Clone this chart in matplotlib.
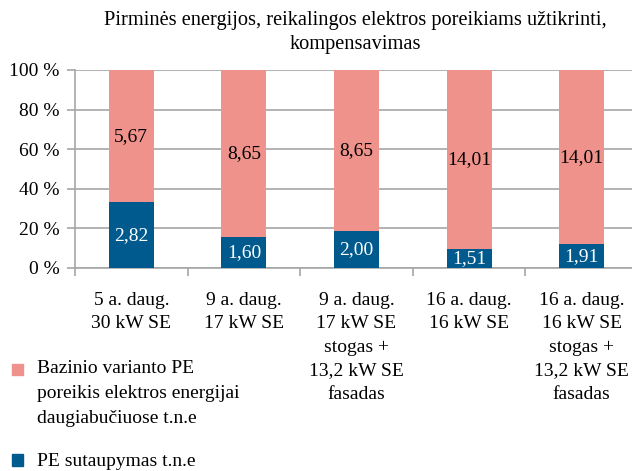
import matplotlib
matplotlib.use('Agg')
import matplotlib.pyplot as plt
import numpy as np
from matplotlib.patches import Rectangle

categories = [
    "5 a. daug.\n30 kW SE",
    "9 a. daug.\n17 kW SE",
    "9 a. daug.\n17 kW SE\nstogas +\n13,2 kW SE\nfasadas",
    "16 a. daug.\n16 kW SE",
    "16 a. daug.\n16 kW SE\nstogas +\n13,2 kW SE\nfasadas",
]
savings = [2.82, 1.60, 2.00, 1.51, 1.91]
base_need = [5.67, 8.65, 8.65, 14.01, 14.01]
y_ticks = [0, 20, 40, 60, 80, 100]
title = "Pirminės energijos, reikalingos elektros poreikiams užtikrinti,\nkompensavimas"
legend_labels = ["Bazinio varianto PE\nporeikis elektros energijai\ndaugiabučiuose t.n.e",
                 "PE sutaupymas t.n.e"]

pink = "#EF928B"
blue = "#005A8D"
grid_c = "#A6A6A6"

plt.rcParams['font.family'] = ['Liberation Serif', 'DejaVu Serif']

fig = plt.figure(figsize=(6.32, 4.71), dpi=100)
# the axis runs a little past the right edge, as in the original
ax = fig.add_axes([75 / 632, 1 - 268 / 471, 563 / 632, 198 / 471])

sav = np.array(savings)
base = np.array(base_need)
total = sav + base
sav_pct = sav / total * 100
base_pct = base / total * 100
x = np.arange(len(categories))

ax.bar(x, sav_pct, width=0.4, color=blue, zorder=3)
ax.bar(x, base_pct, width=0.4, bottom=sav_pct, color=pink, zorder=3)

for i in range(len(x)):
    ax.text(x[i], sav_pct[i] / 2, f"{savings[i]:.2f}".replace(".", ","),
            ha="center", va="center", color="white", fontsize=14, zorder=4)
    ax.text(x[i], sav_pct[i] + base_pct[i] / 2, f"{base_need[i]:.2f}".replace(".", ","),
            ha="center", va="center", color="black", fontsize=14, zorder=4)

ax.set_xlim(-0.5, len(x) - 0.5)
ax.set_ylim(0, 100)
ax.set_yticks(y_ticks)
ax.set_yticklabels([f"{t} %" for t in y_ticks], fontsize=14)
ax.yaxis.grid(True, color=grid_c, linewidth=1.2, zorder=0)
ax.set_xticks(np.arange(-0.5, len(x), 1.0))
ax.set_xticklabels([])
ax.tick_params(axis="x", length=6, color=grid_c, width=1.2)
ax.tick_params(axis="y", length=6, color=grid_c, width=1.2, pad=5)
for i, c in enumerate(categories):
    ax.text(x[i], -12, c, ha="center", va="top", fontsize=14,
            linespacing=1.5, transform=ax.transData)

for s in ["top", "right"]:
    ax.spines[s].set_visible(False)
ax.spines["left"].set_color(grid_c)
ax.spines["bottom"].set_color(grid_c)
ax.spines["left"].set_linewidth(1.2)
ax.spines["bottom"].set_linewidth(1.2)

fig.text(355 / 632, 1 - 11 / 471, title, ha="center", va="top", fontsize=14.7,
         linespacing=1.38)

# legend
fig.patches.append(Rectangle((12 / 632, 1 - 375 / 471), 11 / 632, 11 / 471,
                             transform=fig.transFigure, color=pink))
fig.text(37 / 632, 1 - 360 / 471, legend_labels[0], ha="left", va="top",
         fontsize=14, linespacing=1.6)
fig.patches.append(Rectangle((12 / 632, 1 - 466 / 471), 11 / 632, 12 / 471,
                             transform=fig.transFigure, color=blue))
fig.text(37 / 632, 1 - 453 / 471, legend_labels[1], ha="left", va="top",
         fontsize=14)

fig.savefig("out.png", dpi=100)
